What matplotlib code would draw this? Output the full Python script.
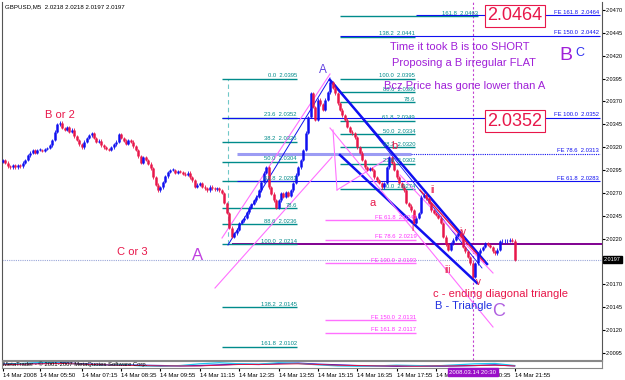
import matplotlib
matplotlib.use("Agg")
import matplotlib.pyplot as plt
import numpy as np

# ---- data -------------------------------------------------------------
closes = [
    2.0306, 2.0303, 2.0299, 2.0298, 2.0300, 2.0298, 2.0300, 2.0299, 2.0303, 2.0306,
    2.0311, 2.0314, 2.0317, 2.0314, 2.0317, 2.0317, 2.0316, 2.0318, 2.0319, 2.0322,
    2.0328, 2.0337, 2.0345, 2.0347, 2.0341, 2.0339, 2.0342, 2.0337, 2.0339, 2.0332,
    2.0328, 2.0323, 2.0320, 2.0326, 2.0330, 2.0333, 2.0335, 2.0330, 2.0326, 2.0327,
    2.0322, 2.0320, 2.0318, 2.0317, 2.0320, 2.0323, 2.0326, 2.0334, 2.0330, 2.0327,
    2.0324, 2.0328, 2.0326, 2.0321, 2.0317, 2.0310, 2.0303, 2.0309, 2.0306, 2.0302,
    2.0297, 2.0287, 2.0279, 2.0273, 2.0276, 2.0282, 2.0288, 2.0293, 2.0295, 2.0295,
    2.0292, 2.0294, 2.0293, 2.0291, 2.0290, 2.0292, 2.0287, 2.0284, 2.0277, 2.0279,
    2.0281, 2.0277, 2.0275, 2.0273, 2.0277, 2.0275, 2.0274, 2.0275, 2.0273, 2.0270,
    2.0259, 2.0248, 2.0232, 2.0222, 2.0226, 2.0230, 2.0237, 2.0240, 2.0243, 2.0249,
    2.0254, 2.0258, 2.0262, 2.0266, 2.0273, 2.0282, 2.0292, 2.0298, 2.0276, 2.0269,
    2.0262, 2.0254, 2.0262, 2.0270, 2.0266, 2.0271, 2.0267, 2.0273, 2.0281, 2.0290,
    2.0298, 2.0306, 2.0317, 2.0336, 2.0353, 2.0379, 2.0364, 2.0350, 2.0372, 2.0367,
    2.0361, 2.0372, 2.0380, 2.0391, 2.0385, 2.0379, 2.0368, 2.0361, 2.0355, 2.0350,
    2.0342, 2.0337, 2.0335, 2.0331, 2.0320, 2.0314, 2.0306, 2.0298, 2.0295, 2.0297,
    2.0295, 2.0287, 2.0284, 2.0281, 2.0276, 2.0281, 2.0298, 2.0309, 2.0303, 2.0295,
    2.0287, 2.0281, 2.0277, 2.0273, 2.0259, 2.0256, 2.0251, 2.0237, 2.0243, 2.0248,
    2.0266, 2.0268, 2.0264, 2.0259, 2.0251, 2.0248, 2.0246, 2.0243, 2.0237, 2.0222,
    2.0214, 2.0208, 2.0215, 2.0219, 2.0223, 2.0226, 2.0222, 2.0211, 2.0206, 2.0200,
    2.0193, 2.0178, 2.0193, 2.0204, 2.0208, 2.0211, 2.0215, 2.0213, 2.0211, 2.0206,
    2.0204, 2.0208, 2.0217, 2.0217, 2.0217, 2.0218, 2.0219, 2.0218, 2.0197,
]
first_open = 2.0304

tick_bars = [0, 15, 32, 48, 64, 80, 96, 112, 128, 144, 160, 176, 192, 208]
tick_labels = ["14 Mar 2008", "14 Mar 05:50", "14 Mar 07:15", "14 Mar 08:35",
               "14 Mar 09:55", "14 Mar 11:15", "14 Mar 12:35", "14 Mar 13:55",
               "14 Mar 15:15", "14 Mar 16:35", "14 Mar 17:55", "14 Mar 19:15",
               "14 Mar 20:35", "14 Mar 21:55"]
price_ticks = [2.0470, 2.0445, 2.0420, 2.0395, 2.0370, 2.0345, 2.0320, 2.0295,
               2.0270, 2.0245, 2.0220, 2.0170, 2.0145, 2.0120, 2.0095]
last_price = 2.0197
cursor_bar = 191

# fib retracement low -> A (left, teal)
fib_left = [("0.0", 2.0395), ("23.6", 2.0352), ("38.2", 2.0326), ("50.0", 2.0304),
            ("61.8", 2.0283), ("78.6", 2.0253), ("88.6", 2.0236), ("100.0", 2.0214),
            ("138.2", 2.0145), ("161.8", 2.0102)]
# fib A -> a (right, teal)
fib_right = [("138.2", 2.0441), ("100.0", 2.0395), ("88.6", 2.0380), ("78.6", 2.0369),
             ("61.8", 2.0349), ("50.0", 2.0334), ("38.2", 2.0320), ("23.6", 2.0302),
             ("0.0", 2.0274)]
fib_right_top = ("161.8", 2.0463)
# blue FE expansion
fe_blue = [("FE 161.8", 2.0464, 168), ("FE 150.0", 2.0442, 137), ("FE 100.0", 2.0352, 89),
           ("FE 78.6", 2.0313, 95), ("FE 61.8", 2.0283, 95)]
# pink FE expansion
fe_pink = [("FE 61.8", 2.0240), ("FE 78.6", 2.0219), ("FE 100.0", 2.0193),
           ("FE 150.0", 2.0131), ("FE 161.8", 2.0117)]
purple_level = 2.0214

# sub window (indicator) values, sampled every 8 bars
ind_bars = list(range(0, 209, 8))
ind_blue = [0.55, 0.6, 0.7, 0.75, 0.6, 0.5, 0.45, 0.4, 0.35, 0.3, 0.35, 0.45, 0.55, 0.5,
            0.65, 0.7, 0.55, 0.45, 0.35, 0.3, 0.25, 0.3, 0.25, 0.3, 0.35, 0.45, 0.3]
ind_cyan = [0.5, 0.65, 0.8, 0.7, 0.55, 0.4, 0.5, 0.3, 0.25, 0.35, 0.6, 0.75, 0.6, 0.55,
            0.75, 0.65, 0.45, 0.3, 0.25, 0.3, 0.4, 0.35, 0.3, 0.45, 0.6, 0.65, 0.35]
ind_red = [0.45, 0.55, 0.6, 0.65, 0.55, 0.45, 0.4, 0.35, 0.3, 0.3, 0.3, 0.4, 0.5, 0.5,
           0.55, 0.6, 0.5, 0.4, 0.35, 0.3, 0.3, 0.25, 0.3, 0.3, 0.35, 0.4, 0.3]


# ---- pixel helpers (reference picture is 625x380) --------------------
def bx(px):
    return (px - 3) / 2.46


def py(px):
    return 2.0470 - (px - 10) / 9147.0


W, H = 625, 380
fig = plt.figure(figsize=(6.25, 3.8), dpi=100, facecolor="white")
ax = fig.add_axes([2 / W, (H - 360) / H, 600 / W, 358 / H])
ax.set_xlim(bx(2), bx(602))
ax.set_ylim(py(360), py(2))

BLUE = "#1010F0"
RED = "#E8174A"
TEAL = "#008B8B"
PINK = "#FF70FF"
VIOLET = "#A020D8"
SMALL = dict(fontsize=4.2, family="Liberation Sans")

# ---- candles ----------------------------------------------------------
opens = [first_open] + closes[:-1]
for i, (o, c) in enumerate(zip(opens, closes)):
    col = BLUE if c >= o else RED
    lo, hi = min(o, c), max(o, c)
    if hi - lo < 0.00008:
        hi = lo + 0.00008
    ax.vlines(i, lo - 0.00015, hi + 0.00015, color=col, lw=0.6, zorder=3)
    ax.vlines(i, lo, hi, color=col, lw=1.8, zorder=3)

# ---- horizontal levels ------------------------------------------------
ax.axhline(last_price, color="#9AA6D8", lw=0.8, ls=(0, (1, 1)), zorder=1)
ax.hlines(purple_level, 93, bx(602), color="#800090", lw=1.4, zorder=2)

for name, lv in fib_left:
    ax.hlines(lv, 89, 119.5, color=TEAL, lw=1.0, zorder=2)
    ax.text(119.5, lv + 0.00005, f"{name}  {lv:.4f}" if name != "78.6" else name,
            color=TEAL, ha="right", va="bottom", zorder=4, **SMALL)

for name, lv in fib_right:
    ax.hlines(lv, 137, 167.5, color=TEAL, lw=1.0, zorder=2)
    ax.text(167.5, lv + 0.00005, f"{name}  {lv:.4f}" if name != "78.6" else name,
            color=TEAL, ha="right", va="bottom", zorder=4, **SMALL)
ax.hlines(fib_right_top[1], 137, bx(478), color=TEAL, lw=1.0, zorder=2)
ax.text(bx(478), fib_right_top[1] + 0.00005, f"{fib_right_top[0]}  {fib_right_top[1]:.4f}",
        color=TEAL, ha="right", va="bottom", zorder=4, **SMALL)

for name, lv, start in fe_blue:
    if name == "FE 78.6":
        ax.hlines(lv, start, 166, color="#9C9CF4", lw=2.2, zorder=2)
        ax.hlines(lv, 166, bx(600), color=BLUE, lw=0.8, ls=(0, (1, 1)), zorder=2)
    else:
        ax.hlines(lv, start, bx(600), color=BLUE, lw=0.8, zorder=2)
    ax.text(bx(599), lv + 0.00005, f"{name}  {lv:.4f}", color=BLUE,
            ha="right", va="bottom", zorder=4, **SMALL)

for name, lv in fe_pink:
    ax.hlines(lv, 131, 168, color=PINK, lw=1.0, zorder=2)
    ax.text(168, lv + 0.00005, f"{name}  {lv:.4f}", color="#FF30FF",
            ha="right", va="bottom", zorder=4, **SMALL)

# ---- vertical markers -------------------------------------------------
ax.axvline(cursor_bar, color="#C040D0", lw=0.8, ls=(0, (2, 2)), zorder=1)
ax.vlines(bx(228), 2.0214, 2.0395, color="#70C8C8", lw=0.8, ls=(0, (4, 3)), zorder=1)

# ---- trend lines / channels -------------------------------------------
lines = [
    ((228, 245), (330, 78), BLUE, 0.7),
    ((222, 238), (330, 74), PINK, 0.8),
    ((215, 288), (332, 157), PINK, 0.8),
    ((330, 80), (487, 264), BLUE, 1.8),
    ((340, 155), (477, 283), BLUE, 1.8),
    ((333, 82), (482, 268), BLUE, 0.6),
    ((420, 190), (484, 262), RED, 1.0),
    ((330, 128), (493, 327), PINK, 0.8),
    ((400, 175), (493, 273), PINK, 0.8),
    ((333, 130), (337, 190), PINK, 0.8),
    ((337, 190), (390, 157), PINK, 0.8),
]
for (x0, y0), (x1, y1), col, lw in lines:
    ax.plot([bx(x0), bx(x1)], [py(y0), py(y1)], color=col, lw=lw, zorder=2)

# ---- annotations ------------------------------------------------------
def label(px_, py_, s, color, size, **kw):
    ax.text(bx(px_), py(py_), s, color=color, fontsize=size, family="Liberation Sans",
            ha="center", va="center", zorder=6, **kw)


label(60, 115, "B or 2", RED, 8)
label(132, 252, "C or 3", RED, 8)
label(198, 255, "A", "#C040E0", 12)
label(323, 70, "A", "#6040E0", 8.5)
label(373, 203, "a", RED, 8)
label(394, 146, "b", RED, 8)
label(412, 228, "i", RED, 7)
label(432, 190, "ii", RED, 7)
label(448, 270, "iii", RED, 7)
label(463, 232, "iv", RED, 7)
label(478, 282, "v", RED, 7)
label(500, 294, "c - ending diagonal triangle", RED, 8)
label(464, 306, "B - Triangle", "#2030E0", 8)
label(499, 311, "C", "#B060E0", 13)
label(566, 55, "B", VIOLET, 14)
label(580, 53, "C", "#3030F0", 9)
label(460, 47, "Time it took B is too SHORT", VIOLET, 8)
label(464, 63, "Proposing a B irregular FLAT", VIOLET, 8)
label(465, 86, "Bcz Price has gone lower than A", VIOLET, 8)
box = dict(boxstyle="square,pad=0.15", fc="white", ec=RED, lw=0.8)
label(515, 16, "2.0464", RED, 13, bbox=box)
label(515, 121, "2.0352", RED, 13, bbox=box)

# ---- axes styling -----------------------------------------------------
ax.set_facecolor("white")
ax.spines["top"].set_visible(False)
ax.spines["left"].set_color("#555555")
ax.spines["right"].set_color("#555555")
ax.spines["bottom"].set_color("#888888")
ax.spines["bottom"].set_linestyle((0, (1, 1)))
ax.yaxis.tick_right()
ax.set_yticks(price_ticks)
ax.set_yticklabels([f"{p:.4f}" for p in price_ticks], family="Liberation Sans")
ax.tick_params(axis="y", labelsize=4.0, length=2, pad=1, colors="black")
ax.set_xticks([])
ax.text(1.003, last_price, f"{last_price:.4f}", transform=ax.get_yaxis_transform(),
        color="white", fontsize=4.0, family="Liberation Sans", ha="left", va="center",
        zorder=7, bbox=dict(boxstyle="square,pad=0.15", fc="black", ec="black"))

fig.text(5 / W, 1 - 7 / H, "GBPUSD,M5  2.0218 2.0218 2.0197 2.0197", fontsize=4.4,
         family="Liberation Sans", ha="left", va="center", color="black")

# ---- indicator sub window --------------------------------------------
sub = fig.add_axes([2 / W, (H - 368) / H, 600 / W, 7 / H])
sub.set_xlim(bx(2), bx(602))
sub.set_ylim(0, 1)
sub.plot(ind_bars, ind_blue, color="#2020E0", lw=0.9)
sub.plot(ind_bars, ind_cyan, color="#20C8F0", lw=0.9)
sub.plot(ind_bars, ind_red, color="#E01040", lw=0.7)
for s in sub.spines.values():
    s.set_color("#888888")
    s.set_linestyle((0, (1, 1)))
sub.set_yticks([])
sub.set_xticks(tick_bars)
sub.set_xticklabels(tick_labels, ha="left", family="Liberation Sans")
sub.tick_params(axis="x", labelsize=4.3, length=2, pad=1.5, colors="black")
fig.text(3 / W, 1 - 364 / H, "MetaTrader - \u00a9 2001-2007 MetaQuotes Software Corp.",
         fontsize=4.2, family="Liberation Sans", ha="left", va="center", color="black")
fig.text(sub.get_position().x0 + (cursor_bar - bx(2)) / (bx(602) - bx(2)) * 600 / W,
         1 - 372 / H, "2008.03.14 20:30", fontsize=4.3, family="Liberation Sans",
         color="white", ha="center", va="center",
         bbox=dict(boxstyle="square,pad=0.2", fc="#9A10C8", ec="#9A10C8"))

fig.savefig("out.png", dpi=100, facecolor="white")
